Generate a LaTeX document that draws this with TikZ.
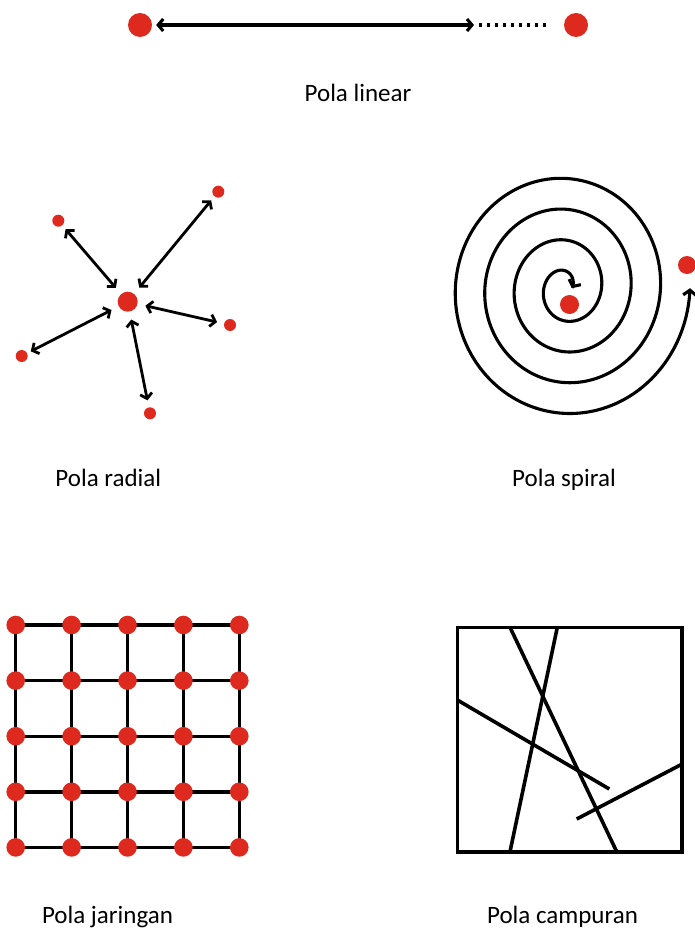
\documentclass[tikz,border=0pt]{standalone}
\usepackage{fontspec}
\setmainfont{Carlito}
\usetikzlibrary{arrows.meta,backgrounds}
\definecolor{dotred}{RGB}{222,42,30}
\tikzset{
  dot/.style={circle,fill=dotred,draw=none,inner sep=0pt,minimum size=#1},
  lab/.style={font=\fontsize{25}{30}\selectfont,anchor=base,inner sep=0pt},
  barb/.style={>={Straight Barb[length=5pt,width=12pt]}},
  linarrow/.style={barb,<->,line width=3.1pt},
  radarrow/.style={barb,<->,line width=2.8pt,shorten <=5pt,shorten >=8pt},
  spiralline/.style={>={Straight Barb[length=5pt,width=13pt]},<->,line width=3.1pt},
  gridline/.style={line width=3.4pt},
  mixline/.style={line width=3.6pt},
}
\begin{document}
\begin{tikzpicture}[x=1pt,y=-1pt]
\useasboundingbox (0,0) rectangle (694,933);

% ---- Pola linear ----
\node[dot=24pt] (la) at (140,25) {};
\node[dot=24pt] (lb) at (576,25) {};
\coordinate (lm) at (474,25);
\coordinate (le) at (546,25);
\draw[linarrow,shorten <=4pt] (la) -- (lm);
\draw[line width=3.1pt,dash pattern=on 3.2pt off 4.8pt] ([xshift=5pt]lm) -- (le);
\node[lab] (tlin) at (358,101.7) {Pola linear};

% ---- Pola radial ----
\node[dot=20pt] (rc) at (127.7,301.7) {};
\node[dot=12pt] (r1) at (58.3,220.7) {};
\node[dot=12pt] (r2) at (218.3,191.7) {};
\node[dot=12pt] (r3) at (230,325) {};
\node[dot=12pt] (r4) at (21.7,356) {};
\node[dot=12pt] (r5) at (150,413.3) {};
\draw[radarrow] (r1) -- (rc);
\draw[radarrow] (r2) -- (rc);
\draw[radarrow,shorten <=7pt] (r3) -- (rc);
\draw[radarrow,shorten <=4pt] (r4) -- (rc);
\draw[radarrow,shorten <=7pt] (r5) -- (rc);
\node[lab] (trad) at (108.3,486.7) {Pola radial};

% ---- Pola spiral ----
\draw[spiralline] plot[domain=0:1440,samples=600,smooth,variable=\t]
  ({565.3+(124.7-29.5*(\t/360))*cos(\t)},{288.2+(132.9-30.8*(\t/360))*sin(\t)});
\node[dot=19pt] (sc) at (569.5,304.5) {};
\node[dot=18pt] (so) at (687,265) {};
\node[lab] (tspi) at (564,486.7) {Pola spiral};

% ---- Pola jaringan ----
\foreach \i in {0,...,4}{
  \foreach \j in {0,...,4}{
    \node[dot=18.6pt] (g\i\j) at ({15.7+55.9*\i},{625+55.6*\j}) {};
  }
}
\begin{scope}[on background layer]
\foreach \i in {0,...,4}{
  \draw[gridline] (g\i0.center) -- (g\i4.center);
  \draw[gridline] (g0\i.center) -- (g4\i.center);
}
\end{scope}
\node[lab] (tjar) at (107.5,923.3) {Pola jaringan};

% ---- Pola campuran ----
\draw[mixline] (457.3,627.3) rectangle (681.7,851.7);
\draw[mixline] (510,627.3) -- (616.7,851.7);
\draw[mixline] (557.3,627.3) -- (510,851.7);
\draw[mixline] (457.3,700) -- (609.3,789);
\draw[mixline] (576.7,819) -- (681.7,764.3);
\node[lab] (tcam) at (562.5,923.3) {Pola campuran};
\end{tikzpicture}
\end{document}
